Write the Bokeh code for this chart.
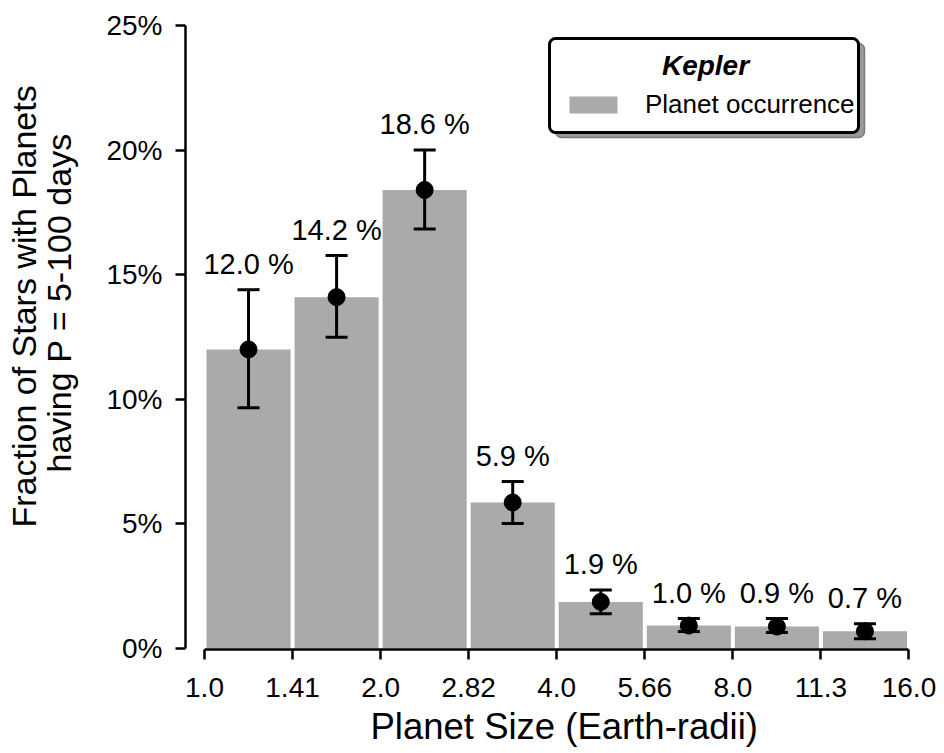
from bokeh.plotting import figure
from bokeh.models import (ColumnDataSource, FixedTicker, Whisker, TeeHead, BoxAnnotation,
                          Label, Legend, LegendItem, Range1d, PrintfTickFormatter, Title)
from bokeh.embed import file_html
from bokeh.resources import INLINE
from bokeh.core.properties import value

# ---------------- data ----------------
size_ticks = ["1.0", "1.41", "2.0", "2.82", "4.0", "5.66", "8.0", "11.3", "16.0"]
occurrence = [12.0, 14.1, 18.4, 5.86, 1.87, 0.92, 0.88, 0.69]
err_upper = [14.4, 15.77, 20.0, 6.7, 2.35, 1.2, 1.2, 0.99]
err_lower = [9.66, 12.49, 16.83, 5.02, 1.39, 0.68, 0.64, 0.39]
bar_labels = ["12.0 %", "14.2 %", "18.6 %", "5.9 %", "1.9 %", "1.0 %", "0.9 %", "0.7 %"]
pct_ticks = [0, 5, 10, 15, 20, 25]
y_title_lines = ["Fraction of Stars with Planets", "having P = 5-100 days"]
x_title = "Planet Size (Earth-radii)"

FONT = "Liberation Sans"
BAR_COLOR = "#AAAAAA"

centers = [i + 0.5 for i in range(len(occurrence))]
src = ColumnDataSource(dict(x=centers, y=occurrence, upper=err_upper,
                            lower=err_lower, label=bar_labels))

# ---------------- layout ----------------
W, H = 940, 753
OFF = 0
F_LEFT, F_RIGHT, F_TOP, F_BOTTOM = 185, 912, 20, 649   # page pixels
X0_PX, BIN_PX = 204.0, 88.06
Y0_PX, PCT_PX = 648.0, 24.92

x_start = -(X0_PX - F_LEFT) / BIN_PX
x_end = len(occurrence) + (F_RIGHT - (X0_PX + BIN_PX * len(occurrence))) / BIN_PX
y_start = -(F_BOTTOM - Y0_PX) / PCT_PX
y_end = (Y0_PX - F_TOP) / PCT_PX


def px_x(px):
    return (px - X0_PX) / BIN_PX


def px_y(py):
    return (Y0_PX - py) / PCT_PX


p = figure(width=W, height=H, output_backend="svg", toolbar_location=None,
           x_range=Range1d(x_start, x_end), y_range=Range1d(y_start, y_end),
           min_border_left=F_LEFT - OFF, min_border_right=W - (F_RIGHT - OFF),
           min_border_top=F_TOP - OFF, min_border_bottom=H - (F_BOTTOM - OFF))
p.outline_line_color = None
p.grid.visible = False
p.background_fill_color = "white"
p.border_fill_color = "white"

bars = p.vbar(x="x", top="y", width=0.955, bottom=0, source=src,
              fill_color=BAR_COLOR, line_color=None)

whisk = Whisker(source=src, base="x", upper="upper", lower="lower",
                line_width=3, line_color="black", level="overlay",
                upper_head=TeeHead(size=22, line_width=3, line_color="black"),
                lower_head=TeeHead(size=22, line_width=3, line_color="black"))
p.add_layout(whisk)

p.scatter(x="x", y="y", source=src, size=17, fill_color="black", line_color="black",
          level="overlay")

p.text(x="x", y="upper", text="label", source=src, y_offset=-26,
       text_align="center", text_baseline="alphabetic",
       text_font=value(FONT), text_font_size="29px", text_color="black")

# ---------------- axes ----------------
xa = p.xaxis[0]
xa.ticker = FixedTicker(ticks=list(range(len(size_ticks))))
xa.major_label_overrides = {i: t for i, t in enumerate(size_ticks)}
xa.bounds = (0, len(size_ticks) - 1)
xa.major_label_standoff = 18

ya = p.yaxis[0]
ya.ticker = FixedTicker(ticks=pct_ticks)
ya.formatter = PrintfTickFormatter(format="%d%%")
ya.bounds = (0, 25)
ya.major_label_standoff = 13
ya.axis_label = " "            # spacer only
ya.axis_label_text_font_size = "1px"
ya.axis_label_standoff = 22

for ax in (xa, ya):
    ax.minor_tick_line_color = None
    ax.axis_line_color = "black"
    ax.axis_line_width = 2.5
    ax.major_tick_line_color = "black"
    ax.major_tick_line_width = 2.5
    ax.major_tick_out = 10
    ax.major_tick_in = 0
    ax.major_label_text_font = FONT
    ax.major_label_text_font_size = "28px"
    ax.major_label_text_color = "black"

# axis titles placed like the original (not centred on the frame)
p.add_layout(Title(text=y_title_lines[1], align="left", offset=F_BOTTOM - 472,
                   standoff=0, text_font=FONT, text_font_size="34px",
                   text_font_style="normal", text_color="black"), "left")
p.add_layout(Title(text=y_title_lines[0], align="left", offset=F_BOTTOM - 527,
                   standoff=-10, text_font=FONT, text_font_size="34px",
                   text_font_style="normal", text_color="black"), "left")
p.add_layout(Title(text=x_title, align="left", offset=370 - F_LEFT,
                   standoff=9, text_font=FONT, text_font_size="36.5px",
                   text_font_style="normal", text_color="black"), "below")

# ---------------- legend ----------------
LB_L, LB_R, LB_T, LB_B = 549, 858, 38, 132
SH_DX, SH_DY = 6, 5
shadow = BoxAnnotation(left=px_x(LB_L + SH_DX), right=px_x(LB_R + SH_DX),
                       top=px_y(LB_T + SH_DY), bottom=px_y(LB_B + SH_DY),
                       fill_color="#9A9A9A", fill_alpha=1.0,
                       line_color="#7A7A7A", line_alpha=1.0, line_width=1.5,
                       border_radius=6)
frame_box = BoxAnnotation(left=px_x(LB_L), right=px_x(LB_R),
                          top=px_y(LB_T), bottom=px_y(LB_B),
                          fill_color="white", fill_alpha=1.0,
                          line_color="black", line_alpha=1.0, line_width=3,
                          border_radius=6)
p.add_layout(shadow)
p.add_layout(frame_box)

title_lbl = Label(x=px_x(705), y=px_y(65), text="Kepler", text_align="center",
                  text_baseline="middle", text_font=FONT, text_font_size="28px",
                  text_font_style="bold italic", text_color="black")
p.add_layout(title_lbl)

legend = Legend(items=[LegendItem(label="Planet occurrence", renderers=[bars])],
                location=(563 - F_LEFT, F_BOTTOM - 120),
                glyph_width=60, glyph_height=21, label_standoff=22,
                label_text_font=FONT, label_text_font_size="26px",
                label_text_color="black",
                background_fill_alpha=0, border_line_alpha=0,
                padding=0, margin=0)
p.add_layout(legend)

open("out.html", "w").write(file_html(p, INLINE))
